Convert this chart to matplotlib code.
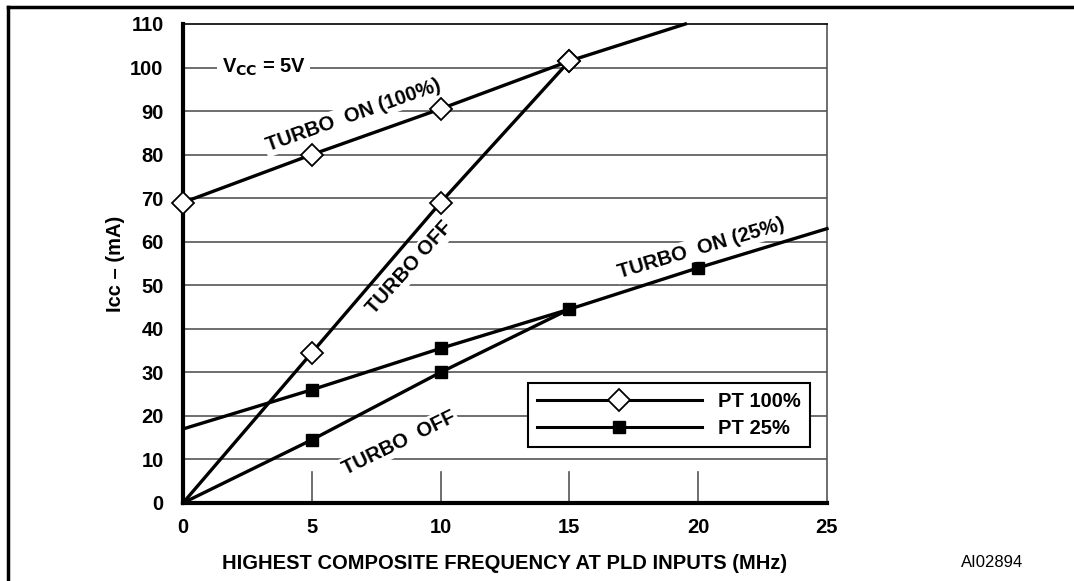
import matplotlib
matplotlib.use("Agg")
import matplotlib.pyplot as plt
from matplotlib.lines import Line2D

plt.rcParams["font.family"] = ["Liberation Sans", "DejaVu Sans"]

# PT 100%
on100_x = [0, 5, 10, 15, 19.5]
on100_y = [69, 80, 90.5, 101.5, 110]
off100_x = [0, 5, 10, 15]
off100_y = [0, 34.5, 69, 101.5]

# PT 25%
on25_x = [0, 5, 10, 15, 20, 25]
on25_y = [17, 26, 35.5, 44.5, 54, 63]
off25_x = [0, 5, 10, 15]
off25_y = [0, 14.5, 30, 44.5]

xticks = [0, 5, 10, 15, 20, 25]
yticks = list(range(0, 111, 10))

fs = 14.5

fig = plt.figure(figsize=(10.74, 5.81), dpi=100)
ax = fig.add_axes([0.1704, 0.1343, 0.5996, 0.8244])
ax.set_xlim(0, 25)
ax.set_ylim(0, 110)

# grid lines
for yv in yticks[1:-1]:
    ax.axhline(yv, color="#555555", lw=1.2, zorder=1)
for xv in xticks[1:-1]:
    ax.plot([xv, xv], [0, 7], color="#555555", lw=1.2, zorder=1)

lw = 2.4
ax.plot(on100_x, on100_y, color="black", lw=lw, zorder=3, clip_on=False,
        marker="D", ms=11, mfc="white", mec="black", mew=1.3, markevery=[0, 1, 2, 3])
ax.plot(off100_x, off100_y, color="black", lw=lw, zorder=3, clip_on=False,
        marker="D", ms=11, mfc="white", mec="black", mew=1.3, markevery=[1, 2, 3])
ax.plot(on25_x, on25_y, color="black", lw=lw, zorder=3, clip_on=False,
        marker="s", ms=9, mfc="black", mec="black", markevery=[1, 2, 3, 4])
ax.plot(off25_x, off25_y, color="black", lw=lw, zorder=3, clip_on=False,
        marker="s", ms=9, mfc="black", mec="black", markevery=[1, 2])

# curve labels
lab = dict(fontsize=fs, fontweight="bold", ha="center", va="center", zorder=4,
           bbox=dict(facecolor="white", edgecolor="none", pad=1.5))
ax.text(6.6, 89, "TURBO  ON (100%)", rotation=19.5, **lab)
ax.text(8.8, 54, "TURBO OFF", rotation=48, **lab)
ax.text(20.1, 58.5, "TURBO  ON (25%)", rotation=16.5, **lab)
ax.text(8.4, 13.8, "TURBO  OFF", rotation=26, **lab)
ax.text(1.5, 100, "V$_{\\mathbf{CC}}$ = 5V", fontsize=fs, fontweight="bold",
        ha="left", va="center", zorder=4,
        bbox=dict(facecolor="white", edgecolor="none", pad=3))

# legend
handles = [
    Line2D([], [], color="black", lw=2.2, marker="D", ms=11, mfc="white", mec="black", mew=1.3),
    Line2D([], [], color="black", lw=2.2, marker="s", ms=9, mfc="black", mec="black"),
]
leg = ax.legend(handles, ["PT 100%", "PT 25%"], loc="lower left",
                bbox_to_anchor=(0.535, 0.117), handlelength=8.2, numpoints=1,
                prop=dict(weight="bold", size=fs), frameon=True, fancybox=False,
                borderpad=0.45, labelspacing=0.4, handletextpad=0.8, borderaxespad=0)
leg.get_frame().set_edgecolor("black")
leg.get_frame().set_linewidth(1.5)
leg.get_frame().set_alpha(1)
leg.set_zorder(5)

# axes styling
ax.spines["left"].set_linewidth(3)
ax.spines["bottom"].set_linewidth(3)
ax.spines["top"].set_linewidth(1.2)
ax.spines["right"].set_linewidth(1.2)
ax.spines["right"].set_color("#555555")
ax.set_xticks(xticks)
ax.set_yticks(yticks)
ax.tick_params(length=0, labelsize=fs)
for t in ax.get_xticklabels() + ax.get_yticklabels():
    t.set_fontweight("bold")
ax.tick_params(axis="x", pad=11)
ax.tick_params(axis="y", pad=14)

ax.set_ylabel("Icc – (mA)", fontsize=fs, fontweight="bold", labelpad=4)
ax.set_xlabel("HIGHEST COMPOSITE FREQUENCY AT PLD INPUTS (MHz)", fontsize=fs,
              fontweight="bold", labelpad=12)
fig.text(0.924, 0.032, "AI02894", fontsize=12, ha="center", va="center")

# outer frame
fig.add_artist(Line2D([0.0075, 1.0], [0.988, 0.988], color="black", lw=2.5))
fig.add_artist(Line2D([0.0075, 0.0075], [0.0, 0.988], color="black", lw=2.5))

fig.savefig("out.png", dpi=100)
